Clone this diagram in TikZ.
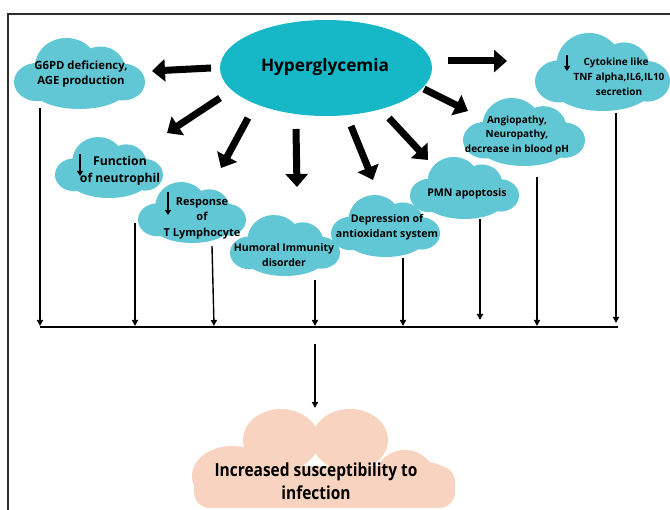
\documentclass[tikz,border=0pt]{standalone}
\usepackage{fontspec}
\setmainfont{Open Sans}
\newfontfamily\condfont{Open Sans}[FakeStretch=0.86]
\usetikzlibrary{arrows.meta}
\definecolor{ellc}{RGB}{22,184,200}
\definecolor{cloudc}{RGB}{98,199,212}
\definecolor{peach}{RGB}{248,211,191}
\definecolor{framec}{RGB}{45,45,45}
\newcommand\tealcloud[4]{%
 \fill[cloudc]
  ({#1+0.40*#3},{#2+0.40*#4}) ellipse [x radius={0.24*#3*1pt}, y radius={0.40*#4*1pt}]
  ({#1+0.66*#3},{#2+0.45*#4}) ellipse [x radius={0.19*#3*1pt}, y radius={0.33*#4*1pt}]
  ({#1+0.18*#3},{#2+0.62*#4}) ellipse [x radius={0.18*#3*1pt}, y radius={0.27*#4*1pt}]
  ({#1+0.83*#3},{#2+0.62*#4}) ellipse [x radius={0.17*#3*1pt}, y radius={0.26*#4*1pt}]
  ({#1+0.50*#3},{#2+0.72*#4}) ellipse [x radius={0.36*#3*1pt}, y radius={0.28*#4*1pt}];}
\begin{document}
\begin{tikzpicture}[x=1pt,y=-1pt,
  lab/.style={font=\bfseries\fontsize{10}{14.5}\selectfont, align=center, inner sep=0pt, text=black},
  bigarrow/.style={line width=7pt, -{Triangle[length=13pt,width=22pt]}},
  thinarrow/.style={line width=1.4pt, -{Triangle[length=6pt,width=6pt]}},
  tinyarrow/.style={line width=1.3pt, -{Triangle[length=5pt,width=6pt]}}]
\useasboundingbox (0,0) rectangle (670,510);
% frame
\draw[framec, line width=1.3pt] (8,510) -- (8,14) -- (670,14);
% central ellipse
\fill[ellc] (326,68) ellipse [x radius=106pt, y radius=48pt];
\node[font=\bfseries\fontsize{17.2}{20}\selectfont] (hyper) at (325,67) {Hyperglycemia};
% clouds
\tealcloud{14}{38}{131}{71}
\tealcloud{55}{137}{108}{61}
\tealcloud{138}{182}{108}{61}
\tealcloud{230}{215}{110}{61}
\tealcloud{331}{195}{109}{62}
\tealcloud{410}{157}{109}{62}
\tealcloud{463}{98}{122}{68}
\tealcloud{535}{33}{135}{78}
% peach cloud
\fill[peach]
  (281,440) ellipse [x radius=38pt, y radius=31pt]
  (350,440) ellipse [x radius=38pt, y radius=31pt]
  (232,476) ellipse [x radius=40pt, y radius=30pt]
  (405,478) ellipse [x radius=30pt, y radius=28pt]
  (425,485) ellipse [x radius=30pt, y radius=23pt];
\fill[peach, rounded corners=16pt] (194,466) rectangle (455,508);
% labels
\node[lab, font=\bfseries\fontsize{11.3}{14.5}\selectfont] (g6pd) at (81,74) {G6PD deficiency,\\AGE production};
\node[lab, font=\bfseries\fontsize{12.2}{17}\selectfont] (func) at (120,171) {Function\\of neutrophil};
\node[lab, font=\bfseries\fontsize{11}{15.5}\selectfont] (resp) at (202,218) {Response\\of\\T Lymphocyte};
\node[lab, font=\bfseries\fontsize{10.5}{15}\selectfont] (humo) at (284,255) {Humoral Immunity\\disorder};
\node[lab, font=\bfseries\fontsize{10.6}{15}\selectfont] (depr) at (387,227) {Depression of\\antioxidant system};
\node[lab, font=\bfseries\fontsize{10.6}{15}\selectfont] (pmn) at (467,194) {PMN apoptosis};
\node[lab] (angio) at (517,135) {Angiopathy,\\Neuropathy,\\decrease in blood pH};
\node[lab, font=\bfseries\fontsize{10}{15}\selectfont] (cyto) at (619,77) {\hspace*{-6pt}Cytokine like\\TNF alpha,IL6,IL10\\secretion};
\node[lab, font=\condfont\bfseries\fontsize{18}{23}\selectfont] (inf) at (316,481) {Increased susceptibility to\\infection};
% small down arrows inside labels
\coordinate (fa1) at (80,154); \coordinate (fa2) at (80,176);
\coordinate (ra1) at (168,192); \coordinate (ra2) at (168,215);
\coordinate (ca1) at (567,55); \coordinate (ca2) at (567,71);
\draw[tinyarrow] (fa1) -- (fa2);
\draw[tinyarrow] (ra1) -- (ra2);
\draw[tinyarrow] (ca1) -- (ca2);
% thick arrows from ellipse
\coordinate (s1) at (211,68);  \coordinate (e1) at (152,71);
\coordinate (s2) at (220,98);  \coordinate (e2) at (167,133);
\coordinate (s3) at (248,118); \coordinate (e3) at (221,168);
\coordinate (s4) at (296,129); \coordinate (e4) at (297,187);
\coordinate (s5) at (351,126); \coordinate (e5) at (373,180);
\coordinate (s6) at (389,118); \coordinate (e6) at (428,160);
\coordinate (s7) at (424,89);  \coordinate (e7) at (468,111);
\coordinate (s8) at (448,61);  \coordinate (e8) at (507,61);
\foreach \i in {1,...,8}{\draw[bigarrow] (s\i) -- (e\i);}
% thin arrows to the collecting line
\coordinate (ta) at (40,108);  \coordinate (ba) at (40,326);
\coordinate (tb) at (135,223); \coordinate (bb) at (135,326);
\coordinate (tc) at (212,246); \coordinate (bc) at (214,326);
\coordinate (td) at (315,280); \coordinate (bd) at (315,326);
\coordinate (te) at (403,258); \coordinate (be) at (403,326);
\coordinate (tf) at (480,219); \coordinate (bf) at (480,320);
\coordinate (tg) at (537,177); \coordinate (bg) at (537,326);
\coordinate (th) at (616,113); \coordinate (bh) at (616,323);
\foreach \k in {a,b,c,d,e,f,g,h}{\draw[thinarrow] (t\k) -- (b\k);}
\coordinate (lineL) at (40,327); \coordinate (lineR) at (618,327);
\draw[line width=2pt] (lineL) -- (lineR);
\coordinate (dn1) at (315,344); \coordinate (dn2) at (315,408);
\draw[thinarrow] (dn1) -- (dn2);
\end{tikzpicture}
\end{document}
